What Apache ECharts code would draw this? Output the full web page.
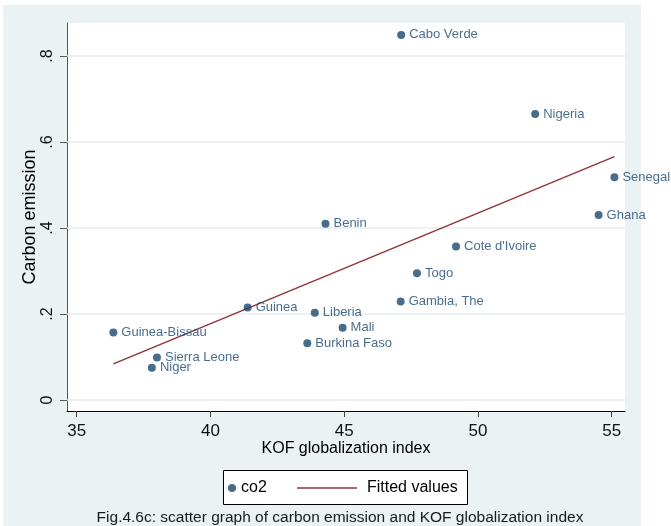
<!DOCTYPE html>
<html>
<head>
<meta charset="utf-8">
<script src="https://cdn.jsdelivr.net/npm/echarts@6/dist/echarts.min.js"></script>
<style>
  html, body { margin: 0; padding: 0; background: #ffffff; }
  #chart { width: 671px; height: 526px; }
</style>
</head>
<body>
<div id="chart"></div>
<script>
// Country observations: KOF globalization index vs carbon emission
const countries = ['Cabo Verde', 'Nigeria', 'Senegal', 'Ghana', 'Benin', "Cote d'Ivoire", 'Togo',
  'Gambia, The', 'Guinea', 'Liberia', 'Mali', 'Burkina Faso', 'Guinea-Bissau', 'Sierra Leone', 'Niger'];
const kofIndex = [47.13, 52.14, 55.10, 54.51, 44.30, 49.18, 47.72, 47.11, 41.39, 43.90, 44.94, 43.62, 36.37, 38.00, 37.81];
const co2 = [0.849, 0.665, 0.518, 0.430, 0.410, 0.357, 0.295, 0.229, 0.215, 0.203, 0.168, 0.132, 0.157, 0.099, 0.075];

// Axis tick values
const xTicks = [35, 40, 45, 50, 55];
const yTicks = [0, 0.2, 0.4, 0.6, 0.8];

// Least-squares fit of co2 on kofIndex, drawn over the observed x range
function linearFit(xs, ys) {
  const n = xs.length;
  const mx = xs.reduce((a, b) => a + b, 0) / n;
  const my = ys.reduce((a, b) => a + b, 0) / n;
  let sxy = 0, sxx = 0;
  for (let i = 0; i < n; i++) {
    sxy += (xs[i] - mx) * (ys[i] - my);
    sxx += (xs[i] - mx) * (xs[i] - mx);
  }
  const slope = sxy / sxx;
  return { slope, intercept: my - slope * mx };
}
const fit = linearFit(kofIndex, co2);
const xLo = Math.min(...kofIndex), xHi = Math.max(...kofIndex);
const fittedLine = [[xLo, fit.intercept + fit.slope * xLo], [xHi, fit.intercept + fit.slope * xHi]];

const points = countries.map((c, i) => ({ name: c, value: [kofIndex[i], co2[i]] }));

const NAVY = '#1a476f';
const MAROON = '#90353b';
const BG = '#eaf2f3';
const FONT = '"Liberation Sans", Arial, sans-serif';

const chart = echarts.init(document.getElementById('chart'), null, { renderer: 'canvas' });

chart.setOption({
  animation: false,
  backgroundColor: '#ffffff',
  textStyle: { fontFamily: FONT },
  graphic: [
    { type: 'rect', z: -10, shape: { x: 3, y: 5, width: 638, height: 521 }, style: { fill: BG } },
    { type: 'rect', z: 5, shape: { x: 223.5, y: 470.5, width: 244, height: 34 }, style: { fill: '#ffffff', stroke: '#000000', lineWidth: 1 } },
    {
      type: 'text', z: 10, x: 340, y: 518,
      style: {
        text: 'Fig.4.6c: scatter graph of carbon emission and KOF globalization index',
        fill: '#1a1a1a', font: '15.5px ' + FONT, textAlign: 'center', textVerticalAlign: 'middle'
      }
    }
  ],
  grid: {
    left: 67, right: 46, top: 23, bottom: 115,
    show: true, backgroundColor: '#ffffff', borderWidth: 0
  },
  legend: [
    {
      data: ['co2'], left: 228, top: 480, padding: 0, z: 20,
      itemWidth: 8, itemHeight: 8,
      textStyle: { fontSize: 16, color: '#000', fontFamily: FONT }
    },
    {
      data: [{ name: 'Fitted values', icon: 'rect' }], left: 297, top: 480, padding: 0, z: 20,
      itemWidth: 60, itemHeight: 1.5,
      textStyle: { fontSize: 16, color: '#000', fontFamily: FONT, padding: [0, 0, 0, 5] }
    }
  ],
  xAxis: {
    type: 'value',
    min: 34.637, max: 55.497,
    name: 'KOF globalization index', nameLocation: 'middle', nameGap: 30,
    nameMoveOverlap: false,
    nameTextStyle: { fontSize: 16, color: '#000', fontFamily: FONT },
    axisLine: { show: true, onZero: false, lineStyle: { color: '#000', width: 1 } },
    axisTick: { show: true, customValues: xTicks, length: 6, lineStyle: { color: '#444' } },
    axisLabel: { customValues: xTicks, fontSize: 17, color: '#111', margin: 12, fontFamily: FONT },
    splitLine: { show: false }
  },
  yAxis: {
    type: 'value',
    min: -0.0256, max: 0.8767,
    name: 'Carbon emission', nameLocation: 'middle', nameGap: 28,
    nameMoveOverlap: false,
    nameTextStyle: { fontSize: 18, color: '#000', fontFamily: FONT },
    axisLine: { show: true, onZero: false, lineStyle: { color: '#555', width: 1 } },
    axisTick: { show: true, customValues: yTicks, length: 7, lineStyle: { color: '#555' } },
    axisLabel: {
      customValues: yTicks, rotate: 90, fontSize: 16, color: '#111', margin: 11, fontFamily: FONT,
      formatter: v => (v === 0 ? '0' : String(v).replace(/^0/, ''))
    },
    splitLine: { show: false }
  },
  series: [
    {
      name: 'co2',
      type: 'scatter',
      symbol: 'circle',
      symbolSize: 8,
      itemStyle: { color: NAVY },
      data: points,
      z: 3,
      label: {
        show: true, position: 'right', distance: 4,
        formatter: p => p.name,
        color: NAVY, fontSize: 13, fontFamily: FONT
      },
      markLine: {
        silent: true, symbol: 'none', z: 1,
        label: { show: false },
        lineStyle: { color: '#e6eef1', width: 1.5, type: 'solid' },
        data: yTicks.map(v => ({ yAxis: v }))
      }
    },
    {
      name: 'Fitted values',
      type: 'line',
      symbol: 'none',
      data: fittedLine,
      z: 2,
      lineStyle: { color: MAROON, width: 1.5 },
      itemStyle: { color: MAROON }
    }
  ]
});
</script>
</body>
</html>
